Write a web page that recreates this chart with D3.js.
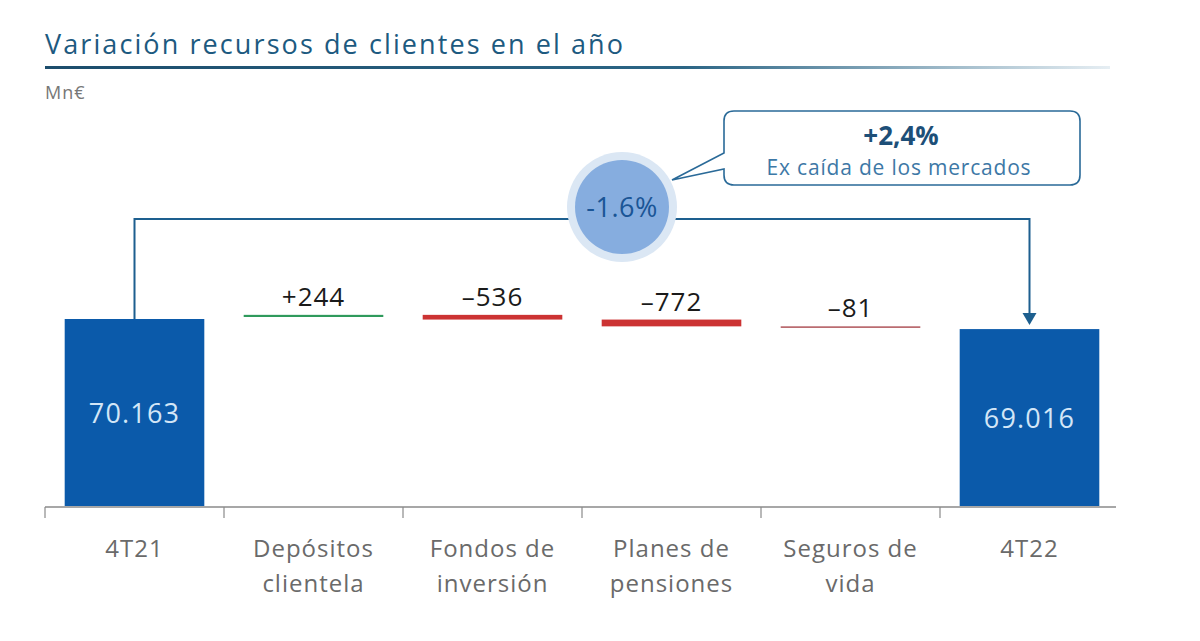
<!DOCTYPE html>
<html><head><meta charset="utf-8">
<script src="https://cdn.jsdelivr.net/npm/d3@7"></script>
<style>
html,body{margin:0;padding:0;background:#fff;}
svg{display:block;font-family:"Open Sans","DejaVu Sans",sans-serif;}
</style></head>
<body><svg id="c" width="1200" height="641"></svg>
<script>
const categories = ["4T21", "Depósitos clientela", "Fondos de inversión", "Planes de pensiones", "Seguros de vida", "4T22"];
const categoryLines = [["4T21"], ["Depósitos", "clientela"], ["Fondos de", "inversión"], ["Planes de", "pensiones"], ["Seguros de", "vida"], ["4T22"]];
const values = [70163, 244, -536, -772, -81, 69016];
const kinds = ["total", "delta", "delta", "delta", "delta", "total"];
const valueLabels = ["70.163", "+244", "–536", "–772", "–81", "69.016"];
const totalChange = "-1.6%";
const exMarketChange = "+2,4%";
const exMarketText = "Ex caída de los mercados";
const title = "Variación recursos de clientes en el año";
const unit = "Mn€";

const svg = d3.select("#c");
const defs = svg.append("defs");

// title
svg.append("text").attr("x", 45).attr("y", 54).attr("font-size", 27).attr("fill", "#1d5a80")
  .attr("textLength", 578).text(title);
const grad = defs.append("linearGradient").attr("id", "ul").attr("x1", "0").attr("x2", "1");
grad.append("stop").attr("offset", "0").attr("stop-color", "#1c4d6c");
grad.append("stop").attr("offset", "0.6").attr("stop-color", "#2b6585");
grad.append("stop").attr("offset", "1").attr("stop-color", "#e6eef3");
svg.append("rect").attr("x", 45).attr("y", 66).attr("width", 1065).attr("height", 3).attr("fill", "url(#ul)");
svg.append("text").attr("x", 45).attr("y", 99).attr("font-size", 18).attr("letter-spacing", 1).attr("fill", "#777").text(unit);

// scales
const x = d3.scaleBand().domain(categories).range([45, 1119]).paddingInner(0.22).paddingOuter(0.11);
const baseY = 506;
const y = d3.scaleLinear().domain([48900, 70163]).range([baseY, 319]);

// waterfall geometry
let run = 0;
const bars = categories.map((c, i) => {
  let y0, y1;
  if (kinds[i] === "total") { y0 = 48900; y1 = values[i]; run = values[i]; }
  else { y0 = run; y1 = run + values[i]; run = y1; }
  return {c, i, y0, y1, v: values[i], kind: kinds[i]};
});
const colorFor = d => d.kind === "total" ? "#0b5aaa" : (d.v >= 0 ? "#2f9a5c" : (Math.abs(d.v) < 100 ? "#b0555a" : "#cc3333"));

svg.selectAll("rect.bar").data(bars).enter().append("rect").attr("class", "bar")
  .attr("x", d => x(d.c)).attr("width", x.bandwidth())
  .attr("y", d => Math.min(y(d.y0), y(d.y1)) - (d.kind === "delta" ? 2 : 0))
  .attr("height", d => Math.max(Math.abs(y(d.y0) - y(d.y1)), 1.5))
  .attr("fill", colorFor);

// labels
bars.forEach(d => {
  const cx = x(d.c) + x.bandwidth() / 2;
  if (d.kind === "total") {
    svg.append("text").attr("x", cx).attr("y", (y(d.y1) + baseY) / 2 + 10).attr("text-anchor", "middle")
      .attr("font-size", 27).attr("letter-spacing", 1.2).attr("fill", "#d3e6f7").text(valueLabels[d.i]);
  } else {
    const top = Math.min(y(d.y0), y(d.y1)) - 2;
    svg.append("text").attr("x", cx).attr("y", top - 9).attr("text-anchor", "middle")
      .attr("font-size", 26).attr("letter-spacing", 1).attr("fill", "#1a1a1a").text(valueLabels[d.i]);
  }
});

// axis
const step = x.step(), pad = step * x.paddingInner() / 2;
svg.append("line").attr("x1", 45).attr("x2", 1116).attr("y1", baseY + 1).attr("y2", baseY + 1)
  .attr("stroke", "#8a8a8a").attr("stroke-width", 1.5);
categories.forEach(c => {
  const tx = x(c) - pad;
  svg.append("line").attr("x1", tx).attr("x2", tx).attr("y1", baseY + 1).attr("y2", baseY + 12)
    .attr("stroke", "#8a8a8a").attr("stroke-width", 1.2);
});
categoryLines.forEach((lines, i) => {
  const cx = x(categories[i]) + x.bandwidth() / 2;
  lines.forEach((l, j) => {
    svg.append("text").attr("x", cx).attr("y", 557 + j * 35).attr("text-anchor", "middle")
      .attr("font-size", 24).attr("letter-spacing", 1).attr("fill", "#6a6a6a").text(l);
  });
});

// connector
const sx = x(categories[0]) + x.bandwidth() / 2;
const ex = x(categories[5]) + x.bandwidth() / 2;
const lineY = 219;
svg.append("path").attr("d", `M${sx},${y(values[0])} V${lineY} H${ex} V${y(values[5]) - 14}`)
  .attr("fill", "none").attr("stroke", "#1d5f8f").attr("stroke-width", 2);
svg.append("path").attr("d", `M${ex - 7},${y(values[5]) - 16} L${ex + 7},${y(values[5]) - 16} L${ex},${y(values[5]) - 4} Z`)
  .attr("fill", "#1d5f8f");

// bubble
const bx = 622, by = 207;
svg.append("circle").attr("cx", bx).attr("cy", by).attr("r", 55).attr("fill", "#dbe7f4");
svg.append("circle").attr("cx", bx).attr("cy", by).attr("r", 47).attr("fill", "#86addf");
svg.append("text").attr("x", bx).attr("y", by + 10).attr("text-anchor", "middle")
  .attr("font-size", 27).attr("letter-spacing", 0.5).attr("fill", "#1a5596").text(totalChange);

// callout
const cx0 = 724, cy0 = 111, cw = 356, ch = 74, r = 10;
const callout = `M${cx0 + r},${cy0} H${cx0 + cw - r} Q${cx0 + cw},${cy0} ${cx0 + cw},${cy0 + r} V${cy0 + ch - r} Q${cx0 + cw},${cy0 + ch} ${cx0 + cw - r},${cy0 + ch} H${cx0 + r} Q${cx0},${cy0 + ch} ${cx0},${cy0 + ch - r} V${cy0 + 58} L${bx + 50},${by - 27} L${cx0},${cy0 + 42} V${cy0 + r} Q${cx0},${cy0} ${cx0 + r},${cy0} Z`;
svg.append("path").attr("d", callout).attr("fill", "#fff").attr("stroke", "#2a6a98").attr("stroke-width", 1.6);
svg.append("text").attr("x", cx0 + cw / 2 - 1).attr("y", 145).attr("text-anchor", "middle")
  .attr("font-size", 26).attr("font-weight", "bold").attr("fill", "#1d4f78").text(exMarketChange);
svg.append("text").attr("x", cx0 + cw / 2 - 3).attr("y", 175).attr("text-anchor", "middle")
  .attr("font-size", 21).attr("letter-spacing", 0.8).attr("fill", "#3d78a6").text(exMarketText);
</script></body></html>
